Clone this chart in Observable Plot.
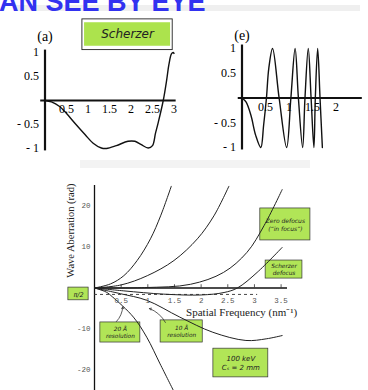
<!DOCTYPE html>
<html><head><meta charset="utf-8">
<script src="https://cdn.jsdelivr.net/npm/d3@7"></script>
<script src="https://cdn.jsdelivr.net/npm/@observablehq/plot@0.6"></script>
<style>
html,body{margin:0;padding:0;background:#fff;}
#root{position:relative;width:368px;height:390px;overflow:hidden;background:#fff;}
#root > *{position:absolute;}
#title{left:-1px;top:-11px;font:bold 27px "Liberation Sans",Arial,sans-serif;color:#3232f0;white-space:nowrap;line-height:1;}
.band{background:#efefef;}
g[aria-label="scherzer-note"] text{letter-spacing:1.8px;}
</style></head>
<body><div id="root">
<div class="band" style="left:15px;top:5px;width:345px;height:6px;"></div>
<div class="band" style="left:80px;top:160px;width:230px;height:8px;background:#f3f3f3"></div>
<div id="title">AN SEE BY EYE</div>
</div>
<script>
// ---------- Panel (a): Scherzer CTF ----------
const freqA = [0, 0.15, 0.34, 0.46, 0.69, 0.93, 1.12, 1.31, 1.43, 1.66, 1.93, 2.09, 2.24, 2.40, 2.50, 2.57, 2.63, 2.75, 2.83, 2.88, 2.94, 2.98, 3.0];
const sinChiA = [0, -0.03, -0.125, -0.23, -0.47, -0.71, -0.89, -0.99, -1.0, -0.94, -0.85, -0.85, -0.92, -0.99, -0.94, -0.68, -0.47, 0, 0.43, 0.74, 0.97, 1.0, 0.98];
const ticksAX = [0.5, 1, 1.5, 2, 2.5, 3];
const labelsAX = ["0.5", "1", "1.5", "2", "2.5", "3"];
const ticksAY = [1, 0.5, -0.5, -1];
const labelsAY = ["1", "0.5", "- 0.5", "- 1"];

// ---------- Panel (e): zero defocus CTF ----------
const freqE = [0, 0.085, 0.19, 0.29, 0.40, 0.46, 0.52, 0.57, 0.65, 0.79, 0.95, 1.04, 1.13, 1.20, 1.29, 1.34, 1.41, 1.47, 1.53, 1.56, 1.61, 1.66, 1.71];
const sinChiE = [0, -0.08, -0.35, -0.75, -1, -0.55, 0, 0.6, 1, 0, -1, 0, 1, 0, -1, 0, 1, 0, -1, 0, 1, 0, -1];
const ticksEX = [0.5, 1, 1.5, 2];
const labelsEX = ["0.5", "1", "1.5", "2"];
const ticksEY = [1, 0.5, -0.5, -1];
const labelsEY = ["1", "0.5", "- 0.5", "- 1"];

// ---------- Bottom: wave aberration curves ----------
const seriesNames = ["defocus 1", "defocus 2", "zero defocus", "Scherzer defocus", "defocus 5", "defocus 6"];
const freqB1 = [0, 0.30, 0.55, 0.80, 1.05, 1.24, 1.44];
const chiB1  = [0, 1.0, 3.0, 6.7, 12.0, 17.6, 24.8];
const freqB2 = [0, 0.5, 0.99, 1.49, 1.93, 2.24, 2.52];
const chiB2  = [0, 0.75, 3.0, 6.7, 12.0, 17.6, 24.8];
const freqB3 = [0, 0.94, 1.8, 2.42, 2.86, 3.18, 3.52];
const chiB3  = [0, 0.1, 0.9, 3.8, 8.7, 15.2, 24.0];
const freqB4 = [0, 0.55, 1.3, 2.0, 2.43, 2.68, 3.05, 3.52];
const chiB4  = [0, -0.7, -1.5, -1.7, -1.1, 0, 3.8, 9.9];
const freqB5 = [0, 0.49, 0.98, 1.6, 2.22, 2.84, 3.22, 3.52];
const chiB5  = [0, -1.4, -3.0, -7.1, -10.8, -12.8, -12.4, -11.6];
const freqB6 = [0, 0.22, 0.34, 0.73, 0.98, 1.23, 1.48];
const chiB6  = [0, -1.0, -2.2, -7.1, -12.0, -18.5, -25.0];
const ticksBX = [0.5, 1, 1.5, 2, 2.5, 3, 3.5];
const labelsBX = ["0.5", "1", "1.5", "2", "2.5", "3", "3.5"];
const ticksBY = [20, 10, -10, -20];
const labelsBY = ["20", "10", "-10", "-20"];
const halfPiLevel = [-1.57];

const GREEN = "#a3e03a";
const HAND = "'DejaVu Sans', sans-serif";
const SERIF = "'Liberation Serif', 'Times New Roman', serif";
const root = document.getElementById("root");

function place(svg, left, top) {
  svg.style.position = "absolute";
  svg.style.left = left + "px";
  svg.style.top = top + "px";
  svg.style.maxWidth = "none";
  root.appendChild(svg);
}

// Panel (a)
const dataA = freqA.map((k, i) => ({k, v: sinChiA[i]}));
const svgA = Plot.plot({
  width: 178, height: 146,
  marginLeft: 44.5, marginRight: 4.5, marginTop: 38, marginBottom: 12,
  x: {domain: [0, 3], axis: null},
  y: {domain: [-1, 1], axis: null},
  style: {background: "transparent", fontFamily: SERIF, overflow: "visible"},
  marks: [
    Plot.rect([0], {x1: 0.92, x2: 2.92, y1: 1.13, y2: 1.62, fill: GREEN, fillOpacity: 0.9}),
    Plot.rect([0], {x1: 0.87, x2: 2.97, y1: 1.05, y2: 1.69, fill: "none", stroke: "#222", strokeWidth: 0.9}),
    Plot.text(["Scherzer"], {x: 1.92, y: 1.38, text: d => d, fontSize: 12, fontStyle: "italic", fontFamily: HAND, fill: "#222", ariaLabel: "scherzer-note"}),
    Plot.ruleY([0], {x1: -0.1, x2: 3.05, strokeWidth: 2, stroke: "#111"}),
    Plot.ruleX([0], {y1: -1.05, y2: 1.05, strokeWidth: 2.2, stroke: "#111"}),
    Plot.line(dataA, {x: "k", y: "v", curve: "catmull-rom", strokeWidth: 1.4, stroke: "#111"}),
    Plot.text(ticksAX, {x: d => d, y: 0, dy: 9, text: (d, i) => labelsAX[i], fontSize: 12, fill: "#000"}),
    Plot.text(ticksAY, {x: 0, y: d => d, dx: -6, textAnchor: "end", text: (d, i) => labelsAY[i], fontSize: 12, fill: "#000"}),
    Plot.text(["(a)"], {x: 0, y: 1.33, text: d => d, fontSize: 14, fill: "#000"})
  ]
});
place(svgA, 0, 14);

// Panel (e)
const dataE = freqE.map((k, i) => ({k, v: sinChiE[i]}));
const svgE = Plot.plot({
  width: 178, height: 146,
  marginLeft: 51.5, marginRight: 4.3, marginTop: 34, marginBottom: 13,
  x: {domain: [0, 2.6], axis: null},
  y: {domain: [-1, 1], axis: null},
  style: {background: "transparent", fontFamily: SERIF, overflow: "visible"},
  marks: [
    Plot.ruleY([0], {x1: -0.08, x2: 2.56, strokeWidth: 2, stroke: "#111"}),
    Plot.ruleX([0], {y1: -1.05, y2: 1.07, strokeWidth: 2.2, stroke: "#111"}),
    Plot.line(dataE, {x: "k", y: "v", curve: "catmull-rom", strokeWidth: 1.4, stroke: "#111"}),
    Plot.text(ticksEX, {x: d => d, y: 0, dy: 9, text: (d, i) => labelsEX[i], fontSize: 12, fill: "#000"}),
    Plot.text(ticksEY, {x: 0, y: d => d, dx: -6, textAnchor: "end", text: (d, i) => labelsEY[i], fontSize: 12, fill: "#000"}),
    Plot.text(["(e)"], {x: 0, y: 1.26, text: d => d, fontSize: 14, fill: "#000"})
  ]
});
place(svgE, 190, 14);

// Bottom chart
const freqs = [freqB1, freqB2, freqB3, freqB4, freqB5, freqB6];
const chis = [chiB1, chiB2, chiB3, chiB4, chiB5, chiB6];
const tableB = seriesNames.flatMap((s, j) => freqs[j].map((k, i) => ({series: s, k, chi: chis[j][i]})));

const notes = [
  {x1: 3.11, x2: 4.05, y1: 11.6, y2: 19.4, text: "Zero defocus\n(“in focus”)", size: 6},
  {x1: 3.21, x2: 3.90, y1: 2.3, y2: 6.7, text: "Scherzer\ndefocus", size: 5.8},
  {x1: 0.11, x2: 0.86, y1: -13.3, y2: -8.4, text: "20 Å\nresolution", size: 5.8},
  {x1: 1.24, x2: 2.03, y1: -13.3, y2: -7.9, text: "10 Å\nresolution", size: 5.8},
  {x1: 2.23, x2: 3.26, y1: -21.8, y2: -14.8, text: "100 keV\nCₛ = 2 mm", size: 7},
  {x1: -0.49, x2: -0.11, y1: -3.0, y2: 0.1, text: "π/2", size: 6.5}
];
const arrows = [
  {x1: 0.41, y1: -8.2, x2: 0.53, y2: -4.6},
  {x1: 1.33, y1: -8.4, x2: 1.03, y2: -5.0}
];

const svgB = Plot.plot({
  width: 368, height: 215,
  marginLeft: 94, marginRight: 81, marginTop: 10, marginBottom: 0,
  x: {domain: [0, 3.62], axis: null},
  y: {domain: [-25, 25], axis: null},
  style: {background: "transparent", fontFamily: SERIF, overflow: "visible"},
  marks: [
    Plot.rect(notes, {x1: "x1", x2: "x2", y1: "y1", y2: "y2", fill: GREEN, fillOpacity: 0.85, stroke: "#333", strokeWidth: 0.7}),
    Plot.text(notes, {x: d => (d.x1 + d.x2) / 2, y: d => (d.y1 + d.y2) / 2, text: "text", fontSize: d => d.size, fontStyle: "italic", fontFamily: HAND, fill: "#222", lineHeight: 1.25}),
    Plot.arrow(arrows, {x1: "x1", y1: "y1", x2: "x2", y2: "y2", bend: -20, headLength: 4, strokeWidth: 0.8, stroke: "#333"}),
    Plot.ruleY([0], {x1: 0, x2: 3.62, strokeWidth: 1.5, stroke: "#111"}),
    Plot.ruleX([0], {y1: -26, y2: 25, strokeWidth: 1.3, stroke: "#111"}),
    Plot.ruleX(ticksBX, {x: d => d, y1: 0, y2: 0.8, strokeWidth: 0.8, stroke: "#333"}),
    Plot.ruleY(halfPiLevel, {y: d => d, x1: 0, x2: 3.06, strokeDasharray: "3,3", strokeWidth: 0.9, stroke: "#333"}),
    Plot.line(tableB, {x: "k", y: "chi", z: "series", curve: "catmull-rom", strokeWidth: 1, stroke: "#222", clip: true}),
    Plot.text(ticksBX, {x: d => d, y: 0, dy: 13, text: (d, i) => labelsBX[i], fontSize: 7.5, fontFamily: "'Liberation Mono', monospace", fill: "#555"}),
    Plot.text(ticksBY, {x: 0, y: d => d, dx: -4, textAnchor: "end", text: (d, i) => labelsBY[i], fontSize: 7.5, fontFamily: "'Liberation Mono', monospace", fill: "#555"}),
    Plot.text(["Spatial Frequency (nm⁻¹)"], {x: 2.76, y: -6, text: d => d, fontSize: 11, fill: "#222"}),
    Plot.text(["Wave Aberration (rad)"], {x: -0.45, y: 14, text: d => d, fontSize: 10.5, rotate: -90, fill: "#222"})
  ]
});
place(svgB, 0, 175);
</script>
</body></html>
